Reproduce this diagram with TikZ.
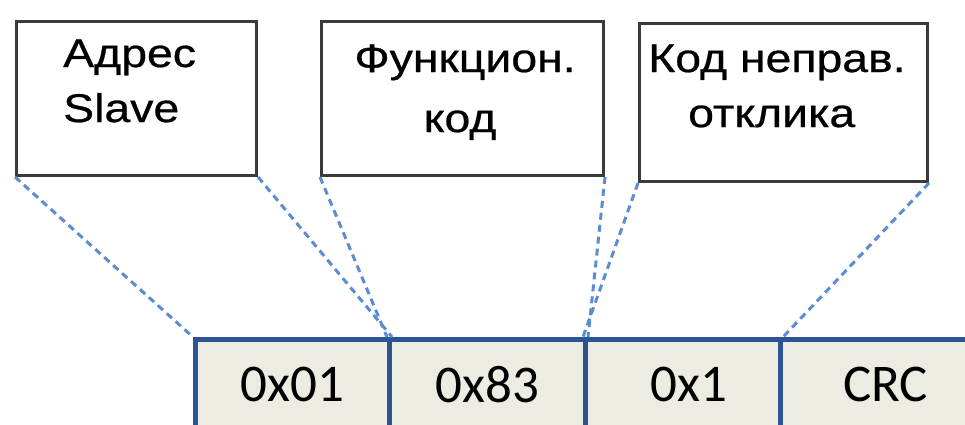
\documentclass[tikz,border=0pt]{standalone}
\usepackage{fontspec}
\setmainfont{Liberation Sans}
\newfontfamily\labelfont[FakeStretch=1.16,FakeBold=0.6]{Liberation Sans}
\newfontfamily\cellfont{Carlito}
\definecolor{cellblue}{HTML}{2B5592}
\definecolor{cellfill}{HTML}{EEEBE2}
\definecolor{dashblue}{HTML}{5C8CD2}
\definecolor{boxgray}{HTML}{3A3A3A}
\begin{document}
\begin{tikzpicture}[x=1pt,y=-1pt,
  fieldbox/.style={draw=boxgray,line width=3pt,fill=white,inner sep=0pt,anchor=north west},
  boxtext/.style={inner sep=0pt,font=\labelfont\fontsize{40}{48}\selectfont},
  cell/.style={draw=cellblue,line width=5pt,fill=cellfill,inner sep=0pt,anchor=north west,
    minimum height=90pt,font=\cellfont\fontsize{53}{60}\selectfont},
  guide/.style={draw=dashblue,line width=3pt,dash pattern=on 7pt off 5pt}]
\useasboundingbox (0,0) rectangle (965,424);
\fill[white] (0,0) rectangle (965,424);
\clip (0,0) rectangle (965,424);
% upper boxes
\node[fieldbox,minimum width=240pt,minimum height=154pt] (b1) at (15,20) {};
\node[fieldbox,minimum width=282pt,minimum height=154pt] (b2) at (320,20) {};
\node[fieldbox,minimum width=288pt,minimum height=158pt] (b3) at (638,22) {};
% texts
\node[boxtext,anchor=base west] (t1a) at (63,67) {Адрес};
\node[boxtext,anchor=base west] (t1b) at (63,122) {Slave};
\node[boxtext,anchor=base] (t2a) at (465,72) {Функцион.};
\node[boxtext,anchor=base] (t2b) at (460,132) {код};
\node[boxtext,anchor=base west] (t3a) at (648,72) {Код неправ.};
\node[boxtext,anchor=base west] (t3b) at (688,127) {отклика};
% cells
\node[cell,minimum width=194pt] (c1) at (193,337) {0x01};
\node[cell,minimum width=196pt] (c2) at (387,337) {0x83};
\node[cell,minimum width=195pt] (c3) at (583,337) {\hspace{12pt}0x1};
\node[cell,minimum width=210pt] (c4) at (778,337) {CRC\hspace{20pt}};
% guides
\draw[guide] (b1.south west) -- (c1.north west);
\draw[guide] (b1.south east) -- (c1.north east);
\draw[guide] (b2.south west) -- (c2.north west);
\draw[guide] (b2.south east) -- (c2.north east);
\draw[guide] (b3.south west) -- (c3.north west);
\draw[guide] (b3.south east) -- (c3.north east);
\end{tikzpicture}
\end{document}
